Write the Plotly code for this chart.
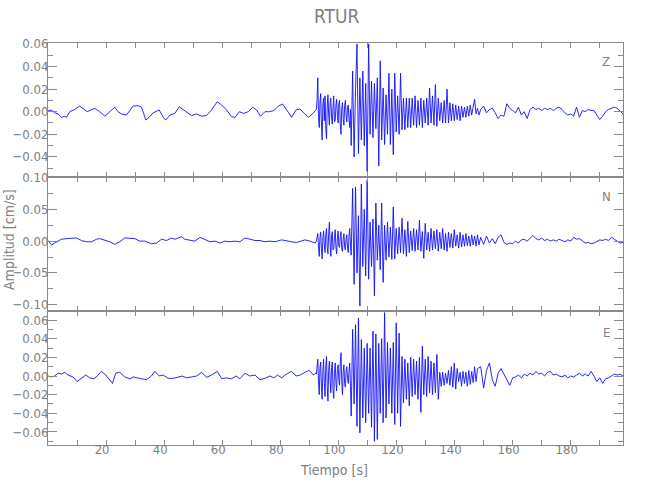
import plotly.graph_objects as go
from plotly.subplots import make_subplots

TITLE = "RTUR"
COMPONENTS = ["Z", "N", "E"]
X_LABEL = "Tiempo [s]"
Y_LABEL = "Amplitud [cm/s]"
X_TICKS = [20, 40, 60, 80, 100, 120, 140, 160, 180]

# amplitudes below are in units of 1e-3 cm/s
AMP_UNIT = 1e-3

# ---- Z component ----
T_Z_PRE = [0.0, 1.2, 2.3, 3.5, 4.6, 5.8, 6.3, 7.5, 9.2, 10.9, 12.1, 13.5, 16.1, 17.8, 19.6, 21.3,
           23.0, 24.1, 25.3, 27.0, 28.2, 29.3, 31.0, 32.2, 33.7, 34.8, 36.2, 38.3, 39.7, 40.5, 42.0,
           43.7, 45.2, 46.6, 47.7, 49.4, 51.2, 52.9, 54.6, 56.3, 58.3, 59.8, 61.5, 63.2, 64.4, 65.9,
           67.3, 69.0, 70.5, 71.8, 73.2, 74.7, 76.2, 77.8, 79.3, 80.8, 82.2, 83.9, 85.4, 86.8, 88.2,
           89.7, 91.4, 92.3]
Z_PRE = [0.6, 1.5, -0.9, -2, -5, -4, -5, 0, 2, 5, 2.7, 0, 3, 0, -4, 0,
         4, 0, -2, -3, 1.5, 5, 5.3, 4, -7.4, -5, -1, 1.5, -5, -7.4, -3,
         -1.5, 4.4, 1.5, 0, -3.5, -2, -4, -3.3, 1.5, 8.9, 5.9, 1.5, -4.4, -5, 0,
         -1.5, 0, 4, 1.5, -4, 0, 0, 1, 5, 6.8, 1.5, -5, 1.5, 2.4, -1.5,
         -5, -1, 2]
Z_ONSET = [2, 10, 30, -5, -14, 8, 16, -10, -25, 6, 12, -8, 14, -15, -24, 5, 15, -3, -12, 9,
           12, -6, -11, 4, 14, -9, -8, 6, 11, -4, -10, 7, 10, -12, -20, 3, 8, -6, -12, 5,
           10, -3, -9, 4, 6, -7, -14, 2]
Z_MAIN = [-30, 36, -40, 20, 60, -37, 30, -25, 36, -30, 25, -53, 60, -20, 27, -23,
          25, -15, 30, -48, 45, -25, 21, -29, 15, -20, 34, -29, 20, -38, 34, -18, 14, -20, 34, -16,
          12, -16, 12, -14, 12, -14, 12, -12, 14, -14, 10, -12, 12, -14, 10, -10, 12, -12, 21, -10,
          14, -12, 24, -13, 12, -8, 8, -10, 10, -10, 20, -10, 8, -8, 7, -8, 6, -7, 5, -8,
          5, -5, 4, -5, 5, -4, 6, -3, 5, 11, -2, 3, -3]
Z_CODA = [2, 5, -1, 2, 3, -1, -6, -3, -4, 7, 3, 1, -1, 4, -3, 0, -6, 2, 4, 2, 3, 1, 3, 2, 3, 1,
          3, 4, 2, -1, -3, -2, -4, 4, -5, 1, 0, 2, 1, 1, -3, -7, -4, 0, 2, 3, 4, 3, 0, -2, -2]

# ---- N component ----
T_N_PRE = [0.0, 1.2, 2.3, 3.5, 4.6, 6.3, 8.1, 9.8, 11.5, 13.2, 15.0, 16.7, 17.8, 19.6, 21.3, 23.0,
           24.7, 26.4, 28.2, 29.9, 31.6, 33.3, 35.6, 37.4, 39.1, 40.8, 42.5, 43.7, 44.8, 46.0, 47.1,
           48.9, 50.6, 52.3, 54.0, 55.8, 57.5, 59.2, 60.9, 62.7, 64.4, 66.1, 67.8, 69.6, 71.3, 73.0,
           74.7, 76.4, 78.2, 80.5, 82.2, 83.9, 85.6, 87.4, 88.5, 90.2, 92.0]
N_PRE = [1, -6, -3, 0, 3, 4, 4, 5, 1, -1, -1, 3, 4, 2, -1, -5,
         -1, 5, 5, 4, 0, 0, -4, -3, 3, 1, 5, 3, 5, 7, 3,
         1, 0, 6, 3, -1, 0, -3, 0, -1, 0, -1, 5, 3, 1, 1,
         -1, 0, -1, 2, 0, -1, -2, 1, 2, 0, -3]
N_ONSET = [0, 5, 12, -8, -24, 6, 14, -12, -28, 4, 16, -6, -18, 10, 20, -9, -20, 12, 30, -5,
           -24, 8, 15, -14, -12, 6, 18, -10, -20, 4, 16, -8, -10, 7, 15, -12, -16, 3, 12, -9,
           -14, 5, 10, -11, -18, 8, 20, -6]
N_MAIN = [-22, 83, -68, 85, -50, 40, -102, 90, -40, 50, -55, 96, -60, 30, -40, 35,
          -86, 60, -30, 25, -45, 60, -65, 25, -30, 30, -25, 22, -29, 54, -28, 20, -20, 22, -18, 36,
          -20, 18, -24, 31, -18, 16, -15, 20, -16, 18, -14, 33, -16, 15, -27, 28, -14, 14, -16, 20,
          -14, 16, -12, 18, -16, 14, -12, 20, -14, 12, -16, 14, -10, 12, -11, 18, -8, 10, -11, 14,
          -9, 10, -8, 12, -7, 8, -8, 10, -6, 8, -8, 10, -6]
N_CODA = [6, -5, 8, -3, 4, -4, 6, 10, -2, -5, -3, -4, 0, -3, 2, 3, 0, 5, 9, 4, 2, 5, 1, 3, 0, 2,
          0, 3, 1, -1, 2, 0, 6, 3, 4, 1, -3, -2, -4, -3, 0, 2, 1, 3, 1, 6, 3, 0, -3, -2, -3]

# ---- E component ----
T_E_PRE = [0.0, 1.2, 2.3, 3.5, 4.6, 5.8, 6.9, 8.6, 10.0, 11.5, 13.0, 14.4, 15.8, 16.9, 18.4, 19.9,
           21.3, 22.2, 23.3, 24.7, 26.4, 28.2, 29.3, 31.0, 32.2, 33.9, 35.6, 36.8, 38.3, 39.7, 41.4,
           43.1, 44.8, 46.3, 47.7, 49.4, 51.2, 52.9, 54.6, 56.3, 58.3, 59.8, 61.3, 63.2, 64.7, 66.1,
           67.8, 69.5, 71.3, 73.0, 74.7, 76.4, 77.8, 79.0, 80.5, 81.6, 83.9, 85.4, 86.8, 88.5, 90.0,
           91.4, 92.3]
E_PRE = [0, -1, 0, 3, 2, 4, 1, -1, -6, -2.5, 1, -2, -3, 0, 5, 1,
         -4, -8, 3, 4, -1, -3, -1, -2.5, -3, -4, 0, 5, 0, 1, -2.5,
         -2.5, -1, 0, -2, -1, 0, 4, -1.5, 1, 5, -3, -2, -3, 0, -3,
         3, 0, 1, -4, -2.5, 0, -2, 1, -2, 1, 5, 0, 1, 4, 6,
         1, 3]
E_ONSET = [2, 8, 18, -6, -20, 9, 15, -12, -25, 5, 18, -8, -22, 10, 21, -11, -27, 6, 16, -5,
           -18, 9, 15, -14, -24, 4, 14, -7, -16, 8, 12, -4, -10, 14, 25, -6, -20, 5, 12, -8,
           -12, 6, 10, -3, -8, 5, 14, -10]
E_MAIN = [-43, 50, -30, 55, -54, 62, -61, 39, -45, 30, -50, 35, -40, 30, -55, 48,
          -70, 45, -68, 35, -40, 40, -50, 68, -45, 36, -30, 30, -40, 36, -52, 57, -40, 46, -54, 21,
          -29, 18, -25, 14, -32, 20, -22, 18, -20, 16, -25, 20, -39, 32, -20, 18, -22, 21, -18, 16,
          -20, 14, -18, 23, -25, 4, -11, 4, -10, 3, -8, 6, -10, 10, -12, 14, -14, 8, -6, 4,
          -11, 5, -8, 4, -11, 6, -9, 5, -7, 10, -6, 8]
E_CODA = [10, -13, 6, 14, -4, -11, 3, 8, 2, -5, -10, -2, -1, 1, -2, 2, 0, 3, 1, 5, 2, 3, 0, 4, 5,
          1, 2, 0, -1, 1, -2, 0, -1, 1, 3, 0, 2, 0, 5, 0, -6, -2, -8, -3, -2, 0, 2, 1, 2, 0, -1]

# sampling of the onset, strong-motion and coda parts (start time, step in s)
ONSET_T0, ONSET_DT = 92.4, 0.25
MAIN_T0, MAIN_DT = 104.4, 0.5
CODA_T0, CODA_DT = 149.0, 1.0

Y_RANGES = {"Z": [-0.0578, 0.0608], "N": [-0.110, 0.101], "E": [-0.074, 0.0697]}
Y_DTICK = {"Z": 0.02, "N": 0.05, "E": 0.02}
Y_MINOR = {"Z": 0.01, "N": 0.025, "E": 0.01}

DATA = {
    "Z": (T_Z_PRE, Z_PRE, Z_ONSET, Z_MAIN, Z_CODA),
    "N": (T_N_PRE, N_PRE, N_ONSET, N_MAIN, N_CODA),
    "E": (T_E_PRE, E_PRE, E_ONSET, E_MAIN, E_CODA),
}


def build(t_pre, pre, onset, main, coda):
    t = list(t_pre)
    t += [ONSET_T0 + ONSET_DT * i for i in range(len(onset))]
    t += [MAIN_T0 + MAIN_DT * i for i in range(len(main))]
    t += [CODA_T0 + CODA_DT * i for i in range(len(coda))]
    v = [a * AMP_UNIT for a in list(pre) + list(onset) + list(main) + list(coda)]
    return t, v


GREY = "#8a8a8a"
TXT = "#808080"
FONT = "Liberation Sans Narrow, Arial Narrow, DejaVu Sans Condensed, sans-serif"

# layout numbers below are in window pixels (page body margin removed)
WIN_W, WIN_H = 650, 500
PLOT_LEFT, PLOT_RIGHT, PLOT_TOP, PLOT_BOTTOM = 48, 623, 43, 445
M_L, M_T = PLOT_LEFT, PLOT_TOP
M_R, M_B = WIN_W - PLOT_RIGHT, WIN_H - PLOT_BOTTOM
W = PLOT_RIGHT - PLOT_LEFT
H = PLOT_BOTTOM - PLOT_TOP

fig = make_subplots(rows=3, cols=1, shared_xaxes=True, vertical_spacing=0)

for r, comp in enumerate(COMPONENTS, start=1):
    t, v = build(*DATA[comp])
    fig.add_trace(go.Scatter(x=t, y=v, mode="lines",
                             line=dict(color="#1010ff", width=0.9),
                             showlegend=False, hoverinfo="skip"), row=r, col=1)
    fig.update_yaxes(range=Y_RANGES[comp], dtick=Y_DTICK[comp], tick0=0, tickformat=".2f",
                     ticks="inside", ticklen=9, tickcolor=GREY, tickwidth=1,
                     minor=dict(dtick=Y_MINOR[comp], tick0=0, ticks="inside", ticklen=5,
                                tickcolor=GREY, showgrid=False),
                     showline=True, linecolor=GREY, linewidth=1, mirror="allticks",
                     showgrid=False, zeroline=False, automargin=False,
                     ticklabelstandoff=-4,
                     tickfont=dict(family=FONT, size=13, color=TXT),
                     row=r, col=1)
    fig.update_xaxes(range=[0, 198], tickvals=X_TICKS,
                     ticks="inside", ticklen=5, tickcolor=GREY, tickwidth=1,
                     minor=dict(dtick=10, tick0=0, ticks="inside", ticklen=5,
                                tickcolor=GREY, showgrid=False),
                     showline=True, linecolor=GREY, linewidth=1, mirror="allticks",
                     showgrid=False, zeroline=False, automargin=False,
                     showticklabels=(r == 3),
                     tickfont=dict(family=FONT, size=13, color=TXT),
                     row=r, col=1)

fig.update_xaxes(ticklabelshift=-4, ticklabelstandoff=-8, row=3, col=1)


def px_x(x):
    return (x - PLOT_LEFT) / W


def px_y(y):
    return 1 - (y - PLOT_TOP) / H


annotations = []
label_y = {"Z": 62, "N": 197, "E": 332}
for comp in COMPONENTS:
    annotations.append(dict(text=comp, xref="paper", yref="paper",
                            x=px_x(606), y=px_y(label_y[comp]),
                            showarrow=False, xanchor="center", yanchor="middle",
                            font=dict(family=FONT, size=13, color=TXT)))
annotations.append(dict(text=TITLE, xref="paper", yref="paper", x=px_x(336), y=px_y(16),
                        showarrow=False, xanchor="center", yanchor="middle",
                        font=dict(family=FONT, size=19, color=TXT)))
annotations.append(dict(text=X_LABEL, xref="paper", yref="paper", x=px_x(334), y=px_y(470),
                        showarrow=False, xanchor="center", yanchor="middle",
                        font=dict(family=FONT, size=14, color=TXT)))
annotations.append(dict(text=Y_LABEL, xref="paper", yref="paper", x=px_x(9), y=px_y(240),
                        showarrow=False, textangle=-90, xanchor="center", yanchor="middle",
                        font=dict(family=FONT, size=14, color=TXT)))

fig.update_layout(width=WIN_W, height=WIN_H,
                  margin=dict(l=M_L, r=M_R, t=M_T, b=M_B, autoexpand=False),
                  paper_bgcolor="white", plot_bgcolor="white",
                  annotations=annotations)

fig.write_html("out.html", config={"displayModeBar": False},
               post_script="document.body.style.margin='0';")
